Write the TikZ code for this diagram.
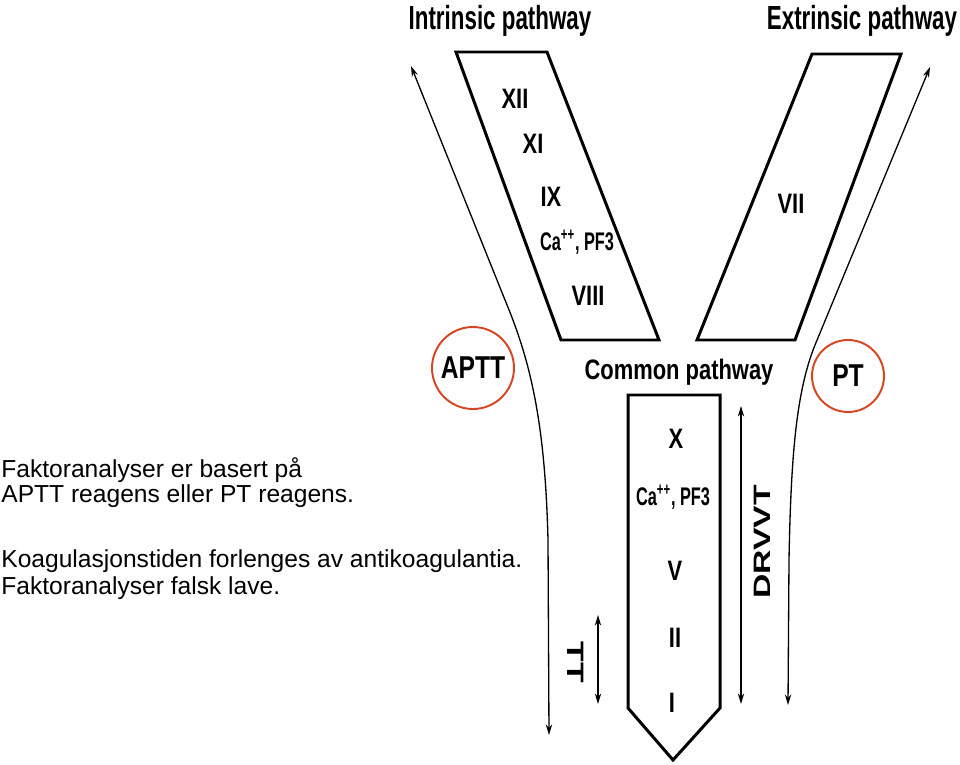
\documentclass[tikz,border=0pt]{standalone}
\usepackage{fontspec}
\setmainfont{Liberation Sans}
\newfontfamily\narrowfont[FakeStretch=0.78]{Liberation Sans}
\newfontfamily\titlefont[FakeStretch=0.67]{Liberation Sans}
\newfontfamily\condfont[FakeStretch=0.64]{Liberation Sans}
\newfontfamily\widefont[FakeStretch=1.42]{Liberation Sans}
\usetikzlibrary{arrows.meta}
\definecolor{ringred}{RGB}{214,68,34}
\begin{document}
\begin{tikzpicture}
[x=0.02cm,y=-0.02cm,
  factorbox/.style={line width=1.7pt,line join=miter},%
  factor/.style={anchor=base,font=\narrowfont\bfseries\fontsize{16}{18}\selectfont},%
  cofactor/.style={anchor=base,font=\condfont\bfseries\fontsize{14.5}{16}\selectfont},%
  heading/.style={anchor=base,font=\titlefont\bfseries\fontsize{19}{22}\selectfont},%
  testname/.style={anchor=base,font=\widefont\bfseries\fontsize{13.5}{16}\selectfont},%
  testring/.style={shape=circle,draw=ringred,line width=1.1pt,inner sep=0pt,
    font=\narrowfont\bfseries\fontsize{18}{20}\selectfont},%
  note/.style={anchor=base west,inner sep=0pt,font=\fontsize{14}{16}\selectfont},%
  arrowdecorate/.style={{Stealth[length=6pt,width=3.6pt]}-{Stealth[length=6pt,width=3.6pt]},line width=0.75pt}]
\useasboundingbox (0,0) rectangle (960,764);
% pathway boxes
\draw[factorbox] (456,52) -- (547,52) -- (659,340) -- (561,340) -- cycle;
\draw[factorbox] (812,54) -- (901,54) -- (795,340) -- (697,340) -- cycle;
\draw[factorbox] (628,395) -- (720,395) -- (720,708) -- (673,760) -- (628,708) -- cycle;
% headings
\node (intr) [heading] at (500,30) {Intrinsic pathway};
\node (extr) [heading] at (862,30) {Extrinsic pathway};
\node (comm) [heading,font=\narrowfont\bfseries\fontsize{16}{18}\selectfont] at (679,379) {Common pathway};
% factors
\node (f12) [factor] at (515,108) {XII};
\node (f11) [factor] at (533,153) {XI};
\node (f9) [factor] at (551,206) {IX};
\node (ca1) [cofactor] at (577,250) {Ca\textsuperscript{++}, PF3};
\node (f8) [factor] at (588,305) {VIII};
\node (f7) [factor] at (791,213) {VII};
\node (f10) [factor] at (676,448) {X};
\node (ca2) [cofactor] at (673,505) {Ca\textsuperscript{++}, PF3};
\node (f5) [factor] at (675,580) {V};
\node (f2) [factor] at (675,647) {II};
\node (f1) [factor] at (672,712) {I};
% tests
\node (aptt) [testring,minimum size=1.64cm] at (473,368) {APTT};
\node (pt) [testring,minimum size=1.44cm] at (848,376) {PT};
\node (drvvt) [testname,rotate=90,anchor=center] at (762,542) {DRVVT};
\node (tt) [testname,rotate=-90,anchor=center] at (576,662) {TT};
% arrow ends
\coordinate (lt) at (411,66);
\coordinate (lb) at (549,735);
\coordinate (rt) at (930,67);
\coordinate (rb) at (788,705);
\coordinate (dt) at (741,406);
\coordinate (db) at (741,704);
\coordinate (tt1) at (598,615);
\coordinate (tt2) at (598,704);
% arrows
\draw[arrowdecorate] (lb) -- (548,540) .. controls (545,420) and (530,360) .. (505,300) -- (lt);
\draw[arrowdecorate] (rb) -- (789,560) .. controls (791,450) and (797,390) .. (815,345) -- (rt);
\draw[arrowdecorate] (dt) -- (db);
\draw[arrowdecorate] (tt1) -- (tt2);
% notes
\node (n1) [note] at (1,477) {Faktoranalyser er basert på};
\node (n2) [note] at (1,502) {APTT reagens eller PT reagens.};
\node (n3) [note] at (1,567) {Koagulasjonstiden forlenges av antikoagulantia.};
\node (n4) [note] at (1,594) {Faktoranalyser falsk lave.};
\end{tikzpicture}
\end{document}
